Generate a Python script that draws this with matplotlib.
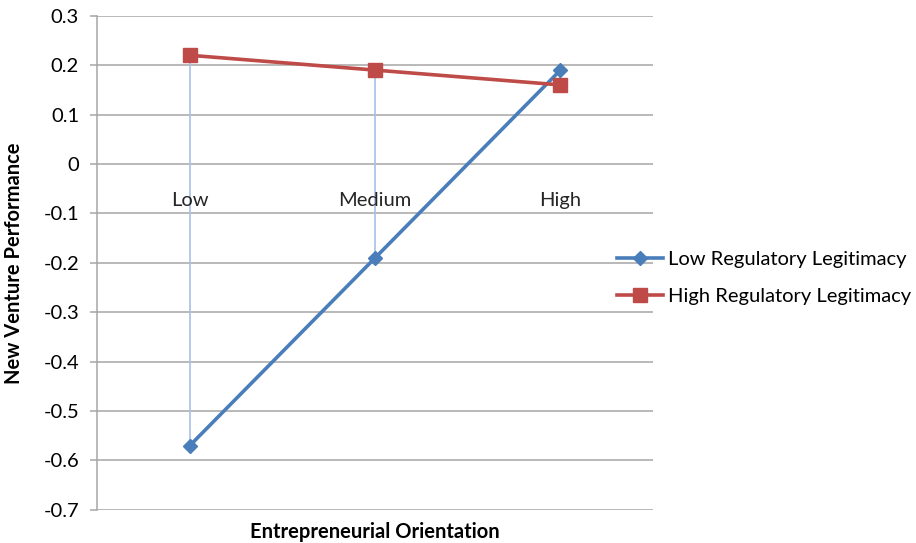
import matplotlib

matplotlib.use("Agg")

import matplotlib.pyplot as plt

plt.rcParams["font.family"] = ["Lato", "DejaVu Sans"]

categories = ["Low", "Medium", "High"]
low_legit = [-0.57, -0.19, 0.19]
high_legit = [0.22, 0.19, 0.16]
y_ticks = [0.3, 0.2, 0.1, 0, -0.1, -0.2, -0.3, -0.4, -0.5, -0.6, -0.7]

BLUE = "#4A7EBB"
RED = "#BE4B48"
GRID = "#A6A6A6"
FS = 14.5

fig = plt.figure(figsize=(9.16, 5.43), dpi=100)
ax = fig.add_axes([0.106, 0.061, 0.607, 0.910])

x = list(range(len(categories)))

# high-low lines joining the two series
ax.vlines(x, low_legit, high_legit, color="#A7C0E8", lw=1.2, zorder=2)

ax.plot(x, low_legit, color=BLUE, lw=2.6, marker="D", ms=7.5,
        label="Low Regulatory Legitimacy", zorder=3)
ax.plot(x, high_legit, color=RED, lw=2.6, marker="s", ms=10,
        label="High Regulatory Legitimacy", zorder=4)

ax.set_xlim(-0.5, len(categories) - 0.5)
ax.set_ylim(-0.7, 0.3)
ax.set_yticks(y_ticks)
ax.set_yticklabels([f"{t:g}" for t in y_ticks], fontsize=FS)
ax.set_xticks([])
ax.grid(axis="y", color=GRID, lw=1.1)
ax.set_axisbelow(True)
for s in ["top", "right", "bottom"]:
    ax.spines[s].set_visible(False)
ax.spines["left"].set_color(GRID)
ax.spines["left"].set_linewidth(1.1)
ax.tick_params(axis="y", length=5, width=1.1, color=GRID, pad=8)

# category labels sit next to the zero line, Excel style
for i, c in enumerate(categories):
    ax.annotate(c, (i, 0), xytext=(0, -26), textcoords="offset points",
                ha="center", va="center", fontsize=FS, color="#262626")

ax.set_ylabel("New Venture Performance", fontsize=FS, fontweight="bold", labelpad=14)
ax.set_xlabel("Entrepreneurial Orientation", fontsize=FS, fontweight="bold", labelpad=9)

fig.legend(loc="center left", bbox_to_anchor=(0.6736, 0.488), frameon=False,
           fontsize=FS, handlelength=2.3, handletextpad=0.25, labelspacing=0.95,
           borderpad=0, borderaxespad=0)

fig.savefig("out.png", dpi=100)
